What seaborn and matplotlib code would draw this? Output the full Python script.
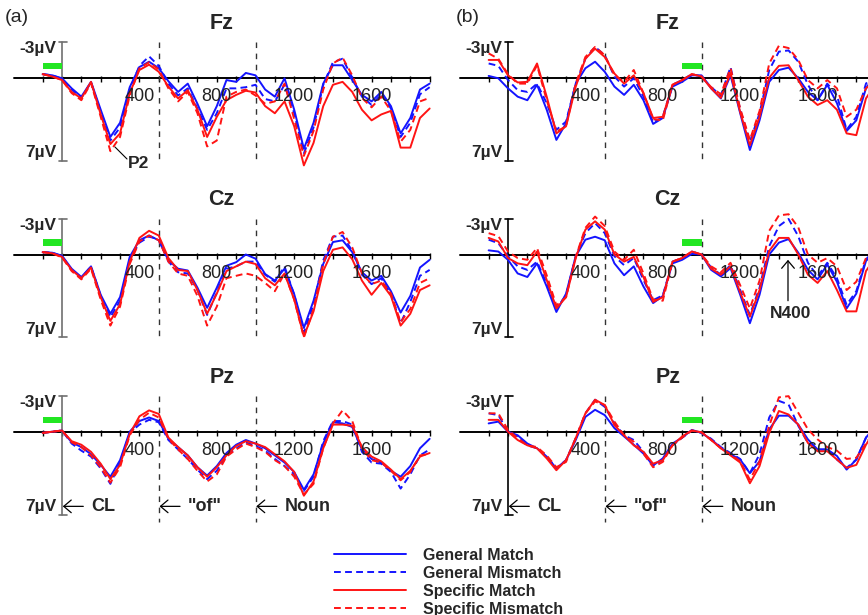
import pandas as pd
import matplotlib.pyplot as plt
import seaborn as sns

sns.set_style('white')
plt.rcParams['font.family'] = ['Liberation Sans', 'DejaVu Sans']

# time points (ms) and condition names
times = list(range(-100, 1901, 50))
conditions = ['General Match', 'General Mismatch', 'Specific Match', 'Specific Mismatch']

# ERP amplitudes in microvolts (negative up)
# panel (a)
fz_a_gm = [-0.3, -0.2, 0.05, 0.9, 1.6, 0.35, 2.7, 5.0, 3.8, 0.8, -0.9, -1.35, -0.8, 0.3, 1.2, 0.5, 2.2, 4.1, 2.4, 0.2, 0.35,
           -0.4, -0.2, 1.0, 1.6, 0.05, 2.7, 6.0, 3.8, 0.5, -1.05, -1.05, 0.2, 1.45, 2.0, 1.2, 2.4, 4.7, 3.4, 1.0, 0.5]
fz_a_gmm = [-0.3, -0.2, 0.1, 1.0, 1.7, 0.4, 2.9, 5.3, 4.2, 1.0, -1.0, -1.8, -1.0, 0.5, 1.5, 0.9, 2.6, 4.4, 3.0, 0.9, 0.9,
            0.8, 0.6, 1.8, 2.0, 0.6, 3.0, 6.4, 4.2, 0.6, -1.3, -1.6, 0.0, 1.6, 2.3, 1.4, 2.6, 5.0, 3.8, 1.4, 0.8]
fz_a_sm = [-0.3, -0.1, 0.2, 1.2, 1.75, 0.35, 3.1, 5.6, 4.7, 1.3, -0.65, -1.1, -0.5, 0.75, 1.75, 1.05, 2.7, 5.0, 3.3, 1.9, 1.45,
           1.1, 1.25, 2.4, 3.0, 2.0, 4.1, 7.4, 5.5, 2.4, 0.6, 0.35, 1.2, 2.7, 3.6, 3.1, 2.8, 5.9, 5.9, 3.4, 2.6]
fz_a_smm = [-0.3, -0.1, 0.2, 1.3, 1.9, 0.45, 3.3, 6.2, 5.0, 1.5, -0.8, -1.3, -0.7, 0.9, 2.0, 1.2, 3.0, 5.8, 5.3, 1.6, 1.2,
            1.0, 1.5, 2.2, 2.0, 0.5, 3.5, 6.6, 4.5, 1.0, -1.2, -1.7, -0.2, 1.7, 2.5, 1.6, 2.8, 5.4, 4.4, 2.0, 1.7]

cz_a_gm = [-0.2, -0.15, 0.1, 1.2, 1.9, 1.0, 3.4, 5.0, 3.6, 0.2, -1.2, -1.6, -1.2, 0.5, 1.2, 1.35, 2.8, 4.5, 2.8, 0.95, 0.65,
           0.0, 0.35, 1.65, 2.2, 1.2, 3.35, 6.2, 3.9, 0.8, -1.05, -1.2, -0.2, 1.5, 2.2, 1.8, 3.1, 4.9, 3.5, 1.1, 0.45]
cz_a_gmm = [-0.2, -0.15, 0.15, 1.3, 2.0, 1.0, 3.5, 5.3, 3.9, 0.4, -1.0, -1.5, -1.3, 0.6, 1.5, 1.6, 3.0, 5.1, 3.2, 1.2, 1.0,
            0.6, 0.6, 1.7, 2.3, 1.0, 3.4, 6.6, 4.2, 0.5, -1.5, -1.6, -0.3, 1.7, 2.5, 2.0, 3.4, 5.8, 4.0, 1.8, 1.3]
cz_a_sm = [-0.2, -0.1, 0.2, 1.3, 2.0, 1.1, 3.6, 5.6, 4.2, 0.6, -1.4, -2.0, -1.6, 0.3, 1.3, 1.4, 3.0, 5.0, 3.3, 1.4, 1.0,
           0.6, 0.8, 2.0, 2.6, 1.6, 3.8, 6.9, 4.8, 1.4, -0.4, -0.6, 0.4, 2.2, 3.4, 2.4, 3.5, 6.0, 5.0, 3.0, 2.6]
cz_a_smm = [-0.2, -0.1, 0.25, 1.4, 2.1, 1.2, 3.8, 6.0, 4.4, 0.8, -1.1, -1.6, -1.2, 0.6, 1.6, 1.8, 3.5, 6.0, 4.4, 2.0, 1.8,
            1.6, 1.8, 2.4, 3.1, 1.6, 3.8, 7.0, 4.6, 0.8, -1.5, -1.9, -0.6, 1.6, 2.5, 2.2, 3.3, 5.7, 4.6, 2.4, 2.0]

pz_a_gm = [0.1, 0.0, -0.1, 0.9, 1.3, 1.9, 2.8, 3.8, 2.4, 0.0, -0.9, -1.2, -0.9, 0.6, 1.3, 2.0, 3.0, 3.7, 2.9, 1.8, 1.1,
           0.7, 1.0, 1.4, 2.0, 2.6, 3.4, 4.9, 3.6, 1.0, -0.8, -0.7, -0.4, 1.5, 2.3, 2.6, 3.3, 3.8, 2.9, 1.4, 0.6]
pz_a_gmm = [0.1, 0.0, -0.1, 1.0, 1.6, 2.1, 3.1, 4.4, 2.6, 0.1, -0.6, -1.0, -0.8, 0.7, 1.5, 2.3, 3.2, 4.0, 3.3, 2.0, 1.4,
            0.9, 1.2, 1.6, 2.3, 2.9, 3.6, 5.0, 3.8, 0.8, -0.9, -0.9, -0.6, 1.7, 2.6, 2.7, 3.4, 4.8, 3.6, 2.0, 1.5]
pz_a_sm = [0.1, 0.0, -0.1, 0.8, 1.1, 1.7, 2.7, 4.0, 2.8, 0.2, -1.3, -1.8, -1.5, 0.5, 1.3, 2.0, 3.0, 3.8, 3.0, 2.0, 1.2,
           0.8, 1.0, 1.3, 1.9, 2.5, 3.4, 5.4, 4.2, 1.4, -0.6, -0.6, -0.5, 1.3, 2.1, 2.5, 3.2, 4.0, 3.3, 2.1, 1.8]
pz_a_smm = [0.1, 0.0, -0.1, 0.9, 1.3, 2.0, 3.0, 4.3, 3.0, 0.3, -1.0, -1.6, -1.2, 0.6, 1.5, 2.3, 3.3, 4.2, 3.6, 2.1, 1.5,
            1.0, 1.3, 1.7, 2.4, 2.9, 3.8, 5.3, 4.4, 1.4, -0.7, -1.8, -0.9, 1.4, 2.4, 2.6, 3.3, 4.1, 3.4, 2.0, 1.9]

# panel (b)
fz_b_gm = [-0.15, 0.05, 0.9, 1.6, 1.9, 0.6, 2.7, 5.25, 3.85, 0.5, -0.8, -1.35, -0.5, 0.75, 1.45, 0.6, 1.9, 3.9, 3.4, 0.75, 0.35,
           -0.2, -0.2, 0.9, 1.75, -0.2, 3.0, 6.1, 3.6, 0.35, -0.65, -0.85, 0.05, 1.2, 1.9, 0.6, 2.15, 4.5, 3.6, 0.9, -0.3]
fz_b_gmm = [-1.2, -1.0, 0.2, 1.05, 1.2, 0.5, 2.15, 4.4, 3.7, 0.5, -1.6, -2.6, -1.9, -0.1, 0.75, 0.05, 1.6, 3.8, 3.3, 0.6, 0.2,
            -0.3, -0.1, 0.8, 1.5, -0.9, 2.7, 5.4, 3.0, -0.65, -2.2, -2.3, -1.35, 0.6, 1.9, 0.5, 1.5, 4.4, 3.3, 0.5, -0.4]
fz_b_sm = [-1.5, -1.5, -0.2, 0.4, 0.35, -1.2, 1.6, 4.7, 4.1, 0.75, -1.6, -2.45, -1.75, -0.35, 0.5, -0.2, 1.3, 3.4, 3.3, 0.6, 0.2,
           -0.3, -0.1, 0.9, 1.7, -0.4, 2.9, 5.7, 3.3, 0.0, -1.0, -1.05, 0.2, 1.6, 2.3, 1.9, 2.7, 4.7, 4.85, 1.75, 0.5]
fz_b_smm = [-2.05, -1.6, -0.3, 0.5, 0.5, -1.05, 1.9, 4.55, 4.1, 0.5, -1.75, -2.6, -1.9, -0.2, 0.35, -0.65, 1.3, 3.5, 3.6, 0.6, 0.2,
            -0.3, -0.1, 0.8, 1.4, -0.8, 2.6, 5.25, 2.8, -1.2, -2.7, -2.5, -1.5, 0.2, 0.9, 0.2, 0.9, 3.3, 2.7, 0.9, 0.2]

cz_b_gm = [-0.35, -0.25, 0.45, 1.6, 1.9, 0.75, 2.7, 4.85, 3.3, 0.15, -1.25, -1.5, -1.2, 0.75, 1.75, 1.0, 2.7, 4.1, 3.5, 0.75, 0.45,
           -0.05, 0.0, 1.3, 1.85, 1.15, 3.4, 5.8, 3.4, 0.0, -1.0, -1.3, -0.15, 1.3, 2.1, 0.85, 2.3, 4.55, 3.3, 0.55, -0.3]
cz_b_gmm = [-1.25, -0.95, 0.15, 1.0, 1.3, 0.6, 2.45, 4.55, 3.45, 0.15, -1.8, -2.65, -1.8, 0.15, 0.9, 0.3, 2.15, 3.85, 3.45, 0.6, 0.3,
            -0.25, 0.0, 1.1, 1.7, 0.9, 3.0, 5.1, 2.8, -0.7, -2.4, -3.0, -1.55, 0.7, 1.85, 0.7, 2.0, 4.25, 3.1, 0.4, -0.4]
cz_b_sm = [-1.4, -1.1, 0.3, 0.75, 0.9, -0.25, 2.15, 4.55, 3.6, 0.3, -2.1, -2.8, -2.1, 0.0, 0.6, 0.2, 1.9, 4.0, 3.6, 0.6, 0.3,
           -0.25, 0.0, 1.2, 1.7, 1.0, 3.2, 5.25, 3.0, -0.3, -1.4, -1.4, 0.0, 1.7, 2.4, 1.4, 3.0, 4.8, 4.8, 1.4, 0.2]
cz_b_smm = [-1.8, -1.55, -0.25, 0.3, 0.45, -0.55, 1.75, 4.3, 3.6, 0.2, -2.25, -3.2, -2.4, -0.25, 0.45, -0.4, 1.6, 3.8, 3.9, 0.6, 0.3,
            -0.25, 0.0, 1.0, 1.5, 0.7, 2.6, 4.55, 2.2, -2.0, -3.3, -3.4, -2.3, 0.0, 0.7, 0.3, 1.0, 3.0, 2.3, 0.3, -0.3]

pz_b_gm = [-0.7, -0.85, 0.0, 0.3, 1.0, 1.4, 2.1, 3.1, 2.4, 0.7, -1.25, -1.85, -1.4, -0.3, 0.4, 1.1, 1.85, 2.85, 2.25, 1.0, 0.5,
           -0.15, 0.1, 0.65, 1.35, 1.9, 2.35, 3.5, 2.5, -0.2, -1.35, -1.35, -0.6, 0.65, 1.5, 1.5, 2.05, 3.2, 2.35, 0.5, -0.5]
pz_b_gmm = [-1.55, -1.4, 0.0, 0.4, 1.15, 1.4, 2.1, 3.1, 2.4, 0.55, -1.55, -2.7, -2.1, -0.7, 0.3, 0.7, 1.7, 2.85, 2.4, 1.15, 0.5,
            -0.1, 0.1, 0.6, 1.3, 1.8, 2.3, 3.5, 1.9, -1.2, -2.6, -2.3, -0.5, 0.95, 1.5, 1.5, 2.35, 3.05, 2.35, 0.5, -0.5]
pz_b_sm = [-1.0, -1.0, 0.0, 0.7, 1.15, 1.4, 2.25, 3.25, 2.4, 0.55, -1.55, -2.7, -2.25, -0.55, 0.3, 1.15, 1.7, 2.7, 2.4, 1.15, 0.4,
           -0.1, 0.05, 0.7, 1.4, 2.0, 2.6, 4.35, 2.9, 0.1, -1.75, -1.45, -0.6, 0.95, 1.65, 1.65, 2.35, 3.05, 2.8, 1.1, -0.2]
pz_b_smm = [-1.55, -1.55, -0.15, 0.55, 1.15, 1.3, 2.0, 3.0, 2.55, 0.55, -1.55, -2.55, -2.25, -0.85, 0.3, 0.85, 1.85, 3.0, 2.55, 1.15, 0.5,
            -0.1, 0.05, 0.7, 1.4, 1.9, 2.5, 4.05, 2.5, -0.5, -2.9, -3.0, -1.6, -0.2, 0.65, 1.3, 1.6, 2.3, 2.2, 1.0, -0.2]

panels = {
    ('a', 'Fz'): [fz_a_gm, fz_a_gmm, fz_a_sm, fz_a_smm],
    ('a', 'Cz'): [cz_a_gm, cz_a_gmm, cz_a_sm, cz_a_smm],
    ('a', 'Pz'): [pz_a_gm, pz_a_gmm, pz_a_sm, pz_a_smm],
    ('b', 'Fz'): [fz_b_gm, fz_b_gmm, fz_b_sm, fz_b_smm],
    ('b', 'Cz'): [cz_b_gm, cz_b_gmm, cz_b_sm, cz_b_smm],
    ('b', 'Pz'): [pz_b_gm, pz_b_gmm, pz_b_sm, pz_b_smm],
}
green_window = {'a': (-100, 0), 'b': (900, 1000)}
tick_labels = [400, 800, 1200, 1600]
onsets = [(0, 'CL'), (500, '"of"'), (1000, 'Noun')]

rows = []
for (col, elec), series in panels.items():
    for cond, vals in zip(conditions, series):
        for t, v in zip(times, vals):
            rows.append((col, elec, cond, t, v))
df = pd.DataFrame(rows, columns=['col', 'elec', 'cond', 'time', 'uv'])

palette = {'General Match': '#1414ff', 'General Mismatch': '#1414ff',
           'Specific Match': '#ff1414', 'Specific Mismatch': '#ff1414'}
dashes = {'General Match': '', 'General Mismatch': (3.5, 2.2),
          'Specific Match': '', 'Specific Mismatch': (3.5, 2.2)}

# pixel layout of each panel
W, H = 868, 615
X0 = {'a': 62, 'b': 508}
Y0 = {'Fz': 77.7, 'Cz': 254.5, 'Pz': 431.7}
SX, SY = 0.1935, 11.85
TLIM = (-260, 1910)
VLIM = (-5.5, 9.0)

fig = plt.figure(figsize=(W / 100, H / 100), dpi=100)
arrow_style = '->,head_length=0.45,head_width=0.38'

handles, labels = None, None
for (col, elec) in panels:
    left = X0[col] + SX * TLIM[0]
    top = Y0[elec] + SY * VLIM[0]
    w = SX * (TLIM[1] - TLIM[0])
    h = SY * (VLIM[1] - VLIM[0])
    ax = fig.add_axes([left / W, 1 - (top + h) / H, w / W, h / H])
    ax.set_xlim(*TLIM)
    ax.set_ylim(VLIM[1], VLIM[0])
    ax.axis('off')

    axis_col = '#707070' if col == 'a' else 'black'
    # horizontal axis with ticks
    ax.plot([-250, 1900], [0, 0], color='black', lw=1.4, zorder=1)
    ax.vlines(list(range(-100, 1901, 100)), -0.15, 0.35, color='black', lw=1.0, zorder=1)
    for lab in tick_labels:
        ax.text(lab, 1.6, str(lab), ha='center', va='center', fontsize=13, color='#222222')
    # vertical scale bar
    ax.plot([0, 0], [-3, 7], color=axis_col, lw=1.2, zorder=1)
    ax.plot([-15, 25], [-3, -3], color=axis_col, lw=1.2)
    ax.plot([-15, 25], [7, 7], color=axis_col, lw=1.2)
    ax.text(-30, -2.45, '-3µV', ha='right', va='center', fontsize=12.5, fontweight='bold')
    ax.text(-30, 6.3, '7µV', ha='right', va='center', fontsize=12.5, fontweight='bold')
    # word onsets
    vbot = 7.6 if elec == 'Pz' else 7.0
    for t in (500, 1000):
        ax.plot([t, t], [-3, vbot], color='#333333', lw=1.0, ls=(0, (4, 4)), zorder=1)
    # baseline window
    g0, g1 = green_window[col]
    ax.fill_between([g0, g1], -1.27, -0.73, color='#22e622', lw=0, zorder=3)
    ax.text(825, -4.6, elec, ha='center', va='center', fontsize=15.5, fontweight='bold')

    sub = df[(df['col'] == col) & (df['elec'] == elec)]
    first = handles is None
    sns.lineplot(data=sub, x='time', y='uv', hue='cond', style='cond', hue_order=conditions,
                 style_order=conditions, palette=palette, dashes=dashes, linewidth=1.4,
                 errorbar=None, ax=ax, legend=first, zorder=2)
    if first:
        hs, ls = ax.get_legend_handles_labels()
        handles = [hh for hh, ll in zip(hs, ls) if ll in conditions]
        labels = [ll for ll in ls if ll in conditions]
        ax.get_legend().remove()
    ax.set_xlim(*TLIM)
    ax.set_ylim(VLIM[1], VLIM[0])
    ax.axis('off')

    if col == 'a' and elec == 'Fz':
        ax.plot([274, 336], [5.85, 6.86], color='black', lw=0.8)
        ax.text(340, 7.25, 'P2', ha='left', va='center', fontsize=12.5, fontweight='bold')
    if col == 'b' and elec == 'Cz':
        ax.annotate('', xy=(1447, 0.45), xytext=(1447, 3.9),
                    arrowprops=dict(arrowstyle=arrow_style, color='black', lw=0.9,
                                    mutation_scale=12, shrinkA=0, shrinkB=0))
        ax.text(1458, 4.95, 'N400', ha='center', va='center', fontsize=12.5, fontweight='bold')
    if elec == 'Pz':
        for t, word in onsets:
            ax.annotate('', xy=(t + 4, 6.3), xytext=(t + 110, 6.3),
                        arrowprops=dict(arrowstyle=arrow_style, color='black', lw=0.9,
                                        mutation_scale=12, shrinkA=0, shrinkB=0))
            ax.text(t + 150, 6.3, word, ha='left', va='center', fontsize=13, fontweight='bold')

fig.text(5 / W, 1 - 17 / H, '(a)', fontsize=14, va='center', ha='left')
fig.text(456 / W, 1 - 17 / H, '(b)', fontsize=14, va='center', ha='left')

fig.legend(handles, labels, loc='upper left', bbox_to_anchor=(334 / W, 1 - 548 / H),
           frameon=False, prop={'weight': 'bold', 'size': 11.5}, handlelength=4.5,
           handletextpad=1.1, labelspacing=0.18, borderpad=0, borderaxespad=0)

fig.savefig('out.png', dpi=100)
